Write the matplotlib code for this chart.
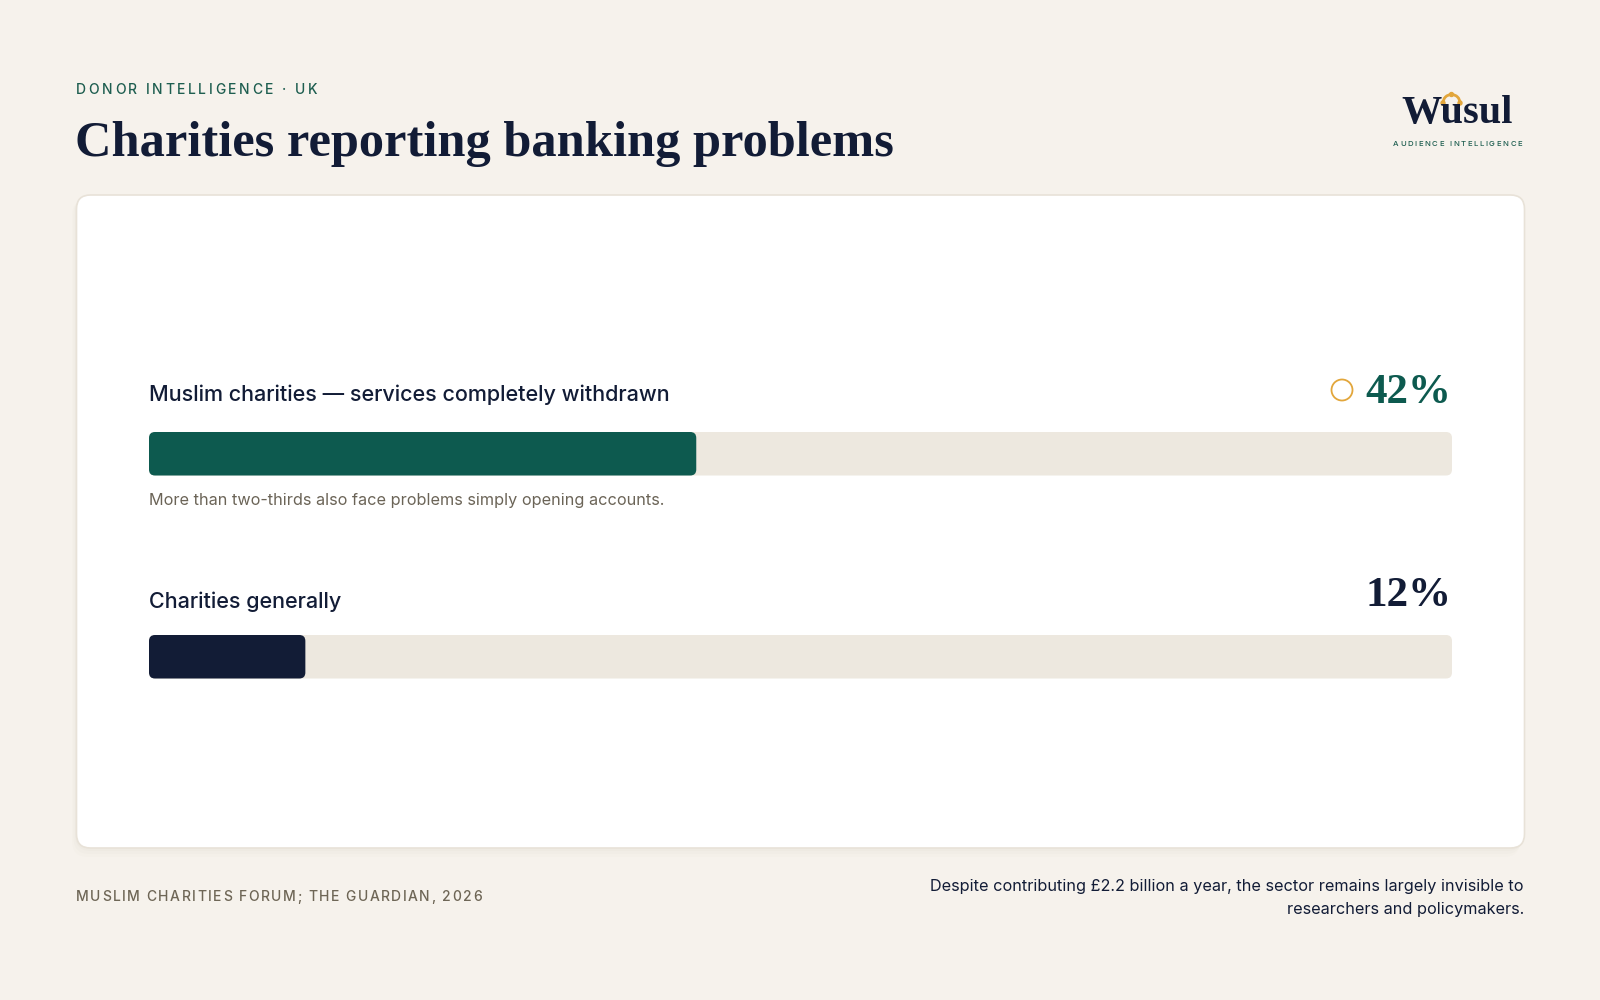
import matplotlib
matplotlib.use("Agg")
import matplotlib.pyplot as plt
from matplotlib.patches import FancyBboxPatch, Circle, Arc

# data
labels = ["Muslim charities \u2014 services completely withdrawn", "Charities generally"]
values = [42, 12]
value_labels = ["42%", "12%"]
notes = ["More than two-thirds also face problems simply opening accounts.", ""]
highlight = [True, False]

kicker = "DONOR INTELLIGENCE \u00b7 UK"
title = "Charities reporting banking problems"
source = "MUSLIM CHARITIES FORUM; THE GUARDIAN, 2026"
footnote = "Despite contributing \u00a32.2 billion a year, the sector remains largely invisible to\nresearchers and policymakers."

# colours
BG = "#F6F2EC"
NAVY = "#121C36"
GREEN = "#0D5A4F"
TRACK = "#EDE8DF"
GOLD = "#E2A63B"
GREY = "#6B6457"
SANS = ["Inter", "DejaVu Sans"]
SERIF = ["Liberation Serif", "DejaVu Serif"]

W, H = 1600, 1000
fig = plt.figure(figsize=(16, 10), dpi=100, facecolor=BG)

# background axes in pixel coordinates for layout
bg = fig.add_axes([0, 0, 1, 1])
bg.set_xlim(0, W)
bg.set_ylim(H, 0)
bg.axis("off")


def spaced(ax, x, y, s, tracking, **kw):
    # draw text char by char with letter spacing (pixel coords)
    r = fig.canvas.get_renderer()
    for ch in s:
        t = ax.text(x, y, ch, ha="left", va="center", **kw)
        bb = t.get_window_extent(renderer=r)
        x += bb.width + tracking


# header
spaced(bg, 76, 90, kicker, 2.55, fontsize=10, color="#1E5E50", family=SANS, fontweight="medium")
bg.text(75, 144, title, ha="left", va="center", fontsize=36.4, color=NAVY,
        family=SERIF, fontweight="bold")

# logo
bg.text(1457, 114, "Wusul", ha="center", va="center", fontsize=29, color=NAVY,
        family=SERIF, fontweight="bold")
bg.add_patch(Arc((1451.5, 103), 17, 17, theta1=180, theta2=360, color=GOLD, lw=2))
for px, py in [(1443, 103), (1460, 103), (1451.5, 94.5)]:
    bg.add_patch(Circle((px, py), 2.0, color=GOLD))
spaced(bg, 1393, 144, "AUDIENCE INTELLIGENCE", 1.6, fontsize=5.6, color="#1E5E50",
       family=SANS, fontweight="medium")

# card with soft shadow
for i, a in enumerate([0.025, 0.02, 0.015]):
    d = 3 + i * 3
    bg.add_patch(FancyBboxPatch((76.5 - d / 2, 195 + d / 2), 1448, 653 + d / 2,
                                boxstyle="round,pad=0,rounding_size=16",
                                fc="#8a7a60", ec="none", alpha=a))
bg.add_patch(FancyBboxPatch((76.5, 195), 1448, 653, boxstyle="round,pad=0,rounding_size=14",
                            fc="white", ec="#E8E2D8", lw=1.2))

# bar axes: x in percent, one unit in y per row
x0, x1 = 149, 1452
top, bot = 432, 678.5
bax = fig.add_axes([x0 / W, 1 - bot / H, (x1 - x0) / W, (bot - top) / H])
half = 21.75 / 203
bax.set_xlim(0, 100)
bax.set_ylim(1 + half, -half)
bax.axis("off")
bax.patch.set_alpha(0)

px_per_x = (x1 - x0) / 100
px_per_y = 203
aspect = px_per_x / px_per_y
rad = 6 / px_per_x
label_gap = [31, 27]   # px from bar top to label baseline
value_gap = 29         # px from bar top to value baseline

for i, (lab, v, vl, note, hl) in enumerate(zip(labels, values, value_labels, notes, highlight)):
    col = GREEN if hl else NAVY
    bax.add_patch(FancyBboxPatch((0, i - half), 100, 2 * half,
                                 boxstyle=f"round,pad=0,rounding_size={rad}",
                                 mutation_aspect=aspect, fc=TRACK, ec="none"))
    bax.add_patch(FancyBboxPatch((0, i - half), v, 2 * half,
                                 boxstyle=f"round,pad=0,rounding_size={rad}",
                                 mutation_aspect=aspect, fc=col, ec="none"))
    # label above bar
    bax.text(0, i - half - label_gap[i] / px_per_y, lab, ha="left", va="baseline", fontsize=15.5,
             color=NAVY, family=SANS, fontweight="medium")
    bax.text(100 - 0.05, i - half - value_gap / px_per_y, vl, ha="right", va="baseline",
             fontsize=31, color=col, family=SERIF, fontweight="bold")
    if hl:
        bg.add_patch(Circle((1342, 390), 10.5, fill=False, ec=GOLD, lw=1.3))
    if note:
        bax.text(0, i + half + 25 / px_per_y, note, ha="left", va="center", fontsize=11.7,
                 color=GREY, family=SANS)

# footer
spaced(bg, 76, 897, source, 1.5, fontsize=10, color="#6E6656", family=SANS, fontweight="medium")
bg.text(1524, 898, footnote, ha="right", va="center", fontsize=11.7, color=NAVY,
        family=SANS, linespacing=1.65, multialignment="right")

fig.savefig("out.png", dpi=100, facecolor=BG)
